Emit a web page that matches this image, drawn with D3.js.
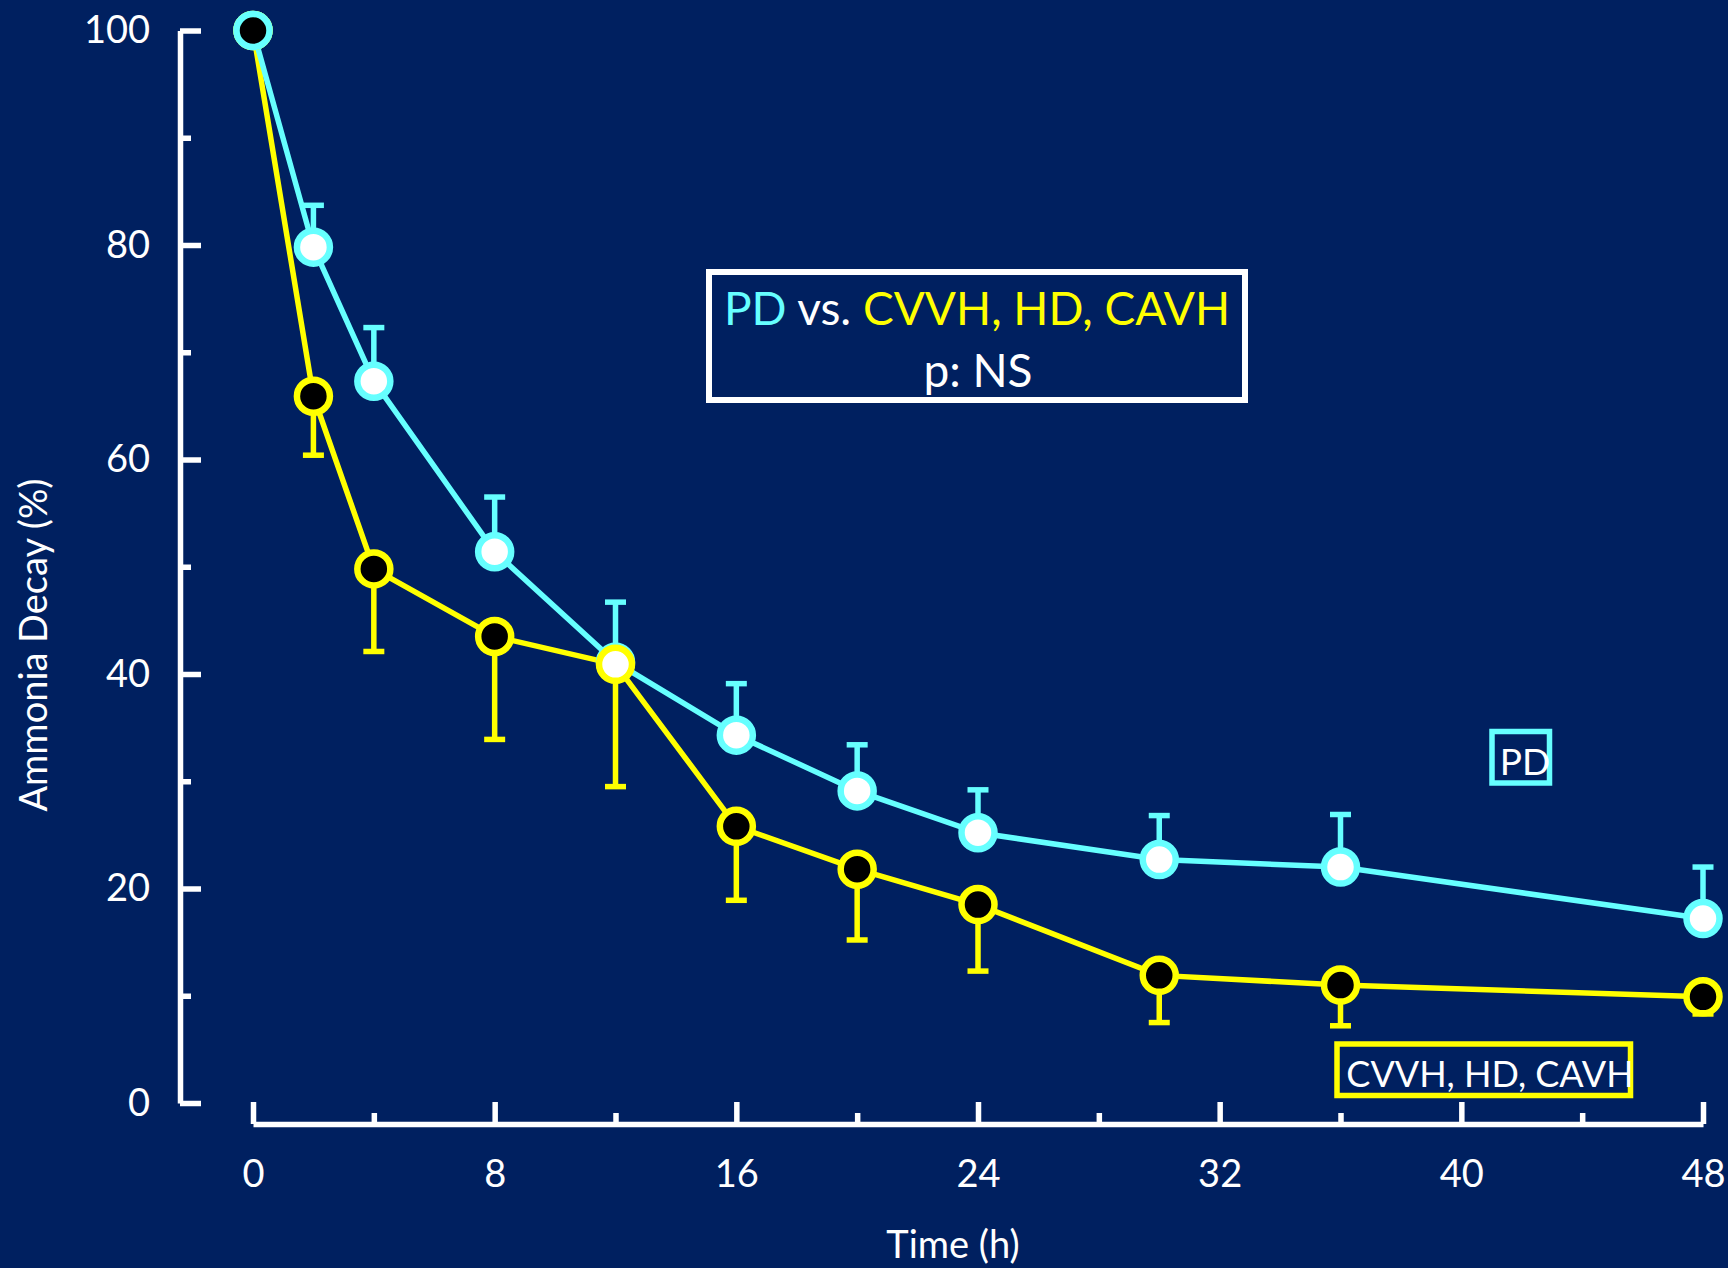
<!DOCTYPE html>
<html>
<head>
<meta charset="utf-8">
<script src="https://cdn.jsdelivr.net/npm/d3@7"></script>
<style>
  body { margin: 0; background: #002060; }
  svg { display: block; }
  text { font-family: Lato, "Open Sans", sans-serif; fill: #fff; }
</style>
</head>
<body>
<svg width="1728" height="1268"></svg>
<script>
// Values
const times = [0, 2, 4, 8, 12, 16, 20, 24, 30, 36, 48];
const pdMean = [100, 79.8, 67.3, 51.4, 41.1, 34.3, 29.1, 25.2, 22.7, 22.0, 17.2];
const pdSD = [0, 3.9, 5.0, 5.1, 5.6, 4.8, 4.3, 4.0, 4.1, 4.9, 4.8];
const rrtMean = [100, 65.9, 49.8, 43.5, 40.9, 25.8, 21.8, 18.5, 11.9, 11.0, 9.9];
const rrtSD = [0, 5.5, 7.7, 9.6, 11.4, 6.9, 6.6, 6.2, 4.4, 3.8, 1.6];

const yMajor = [0, 20, 40, 60, 80, 100];
const yMinor = [10, 30, 50, 70, 90];
const xMajor = [0, 8, 16, 24, 32, 40, 48];
const xMinor = [4, 12, 20, 28, 36, 44];

// Colours
const BG = "#002060";
const CYAN = "#66FFFF";
const YELLOW = "#FFFF00";

const svg = d3.select("svg");
svg.append("rect").attr("width", 1728).attr("height", 1268).attr("fill", BG);

// Scales
const x = d3.scaleLinear().domain([0, 48]).range([253, 1703]);
const y = d3.scaleLinear().domain([0, 100]).range([1103, 30.5]);

const pd = times.map((t, i) => ({ t: t, v: pdMean[i], e: pdSD[i] }));
const rrt = times.map((t, i) => ({ t: t, v: rrtMean[i], e: rrtSD[i] }));

// Y axis (ticks point inward)
const yAxis = svg.append("g").attr("transform", "translate(180,0)");
yAxis.call(d3.axisLeft(y).tickValues(yMajor).tickSize(-21).tickSizeOuter(0).tickPadding(30));
svg.append("g").attr("transform", "translate(180,0)")
    .call(d3.axisLeft(y).tickValues(yMinor).tickSize(-11).tickFormat(""))
    .select(".domain").remove();

// X axis (offset below the plot)
const xAxis = svg.append("g").attr("transform", "translate(0,1124)");
xAxis.call(d3.axisBottom(x).tickValues(xMajor).tickSize(-22).tickSizeOuter(0).tickPadding(36));
svg.append("g").attr("transform", "translate(0,1124)")
    .call(d3.axisBottom(x).tickValues(xMinor).tickSize(-11).tickFormat(""))
    .select(".domain").remove();

svg.selectAll(".domain, .tick line")
    .attr("stroke", "#fff")
    .attr("stroke-width", 5.5);
svg.selectAll(".tick text")
    .style("font-family", "Lato, 'Open Sans', sans-serif")
    .style("font-size", "38px")
    .attr("fill", "#fff");

// Axis titles
svg.append("text")
    .attr("x", 953).attr("y", 1258)
    .attr("text-anchor", "middle")
    .style("font-size", "38px")
    .text("Time (h)");

svg.append("text")
    .attr("transform", "translate(47,645) rotate(-90)")
    .attr("text-anchor", "middle")
    .style("font-size", "38px")
    .text("Ammonia Decay (%)");

// Lines
const line = d3.line().x(d => x(d.t)).y(d => y(d.v));

svg.append("path").datum(rrt)
    .attr("d", line).attr("fill", "none")
    .attr("stroke", YELLOW).attr("stroke-width", 5.5);
svg.append("path").datum(pd)
    .attr("d", line).attr("fill", "none")
    .attr("stroke", CYAN).attr("stroke-width", 5.5);

// Error bars: PD up, RRT down
function errorBars(data, colour, dir) {
    const g = svg.append("g");
    const bars = data.filter(d => d.e > 0);
    g.selectAll("line.stem").data(bars).enter().append("line")
        .attr("x1", d => x(d.t)).attr("x2", d => x(d.t))
        .attr("y1", d => y(d.v))
        .attr("y2", d => y(d.v + dir * d.e))
        .attr("stroke", colour).attr("stroke-width", 5.5);
    g.selectAll("line.cap").data(bars).enter().append("line")
        .attr("x1", d => x(d.t) - 10.5).attr("x2", d => x(d.t) + 10.5)
        .attr("y1", d => y(d.v + dir * d.e))
        .attr("y2", d => y(d.v + dir * d.e))
        .attr("stroke", colour).attr("stroke-width", 5.5);
}
errorBars(pd, CYAN, 1);
errorBars(rrt, YELLOW, -1);

// Markers
svg.append("g").selectAll("circle").data(pd).enter().append("circle")
    .attr("cx", d => x(d.t)).attr("cy", d => y(d.v)).attr("r", 16.5)
    .attr("fill", "#fff").attr("stroke", CYAN).attr("stroke-width", 6.5);

// at 12 h the RRT marker sits over the PD one, the slide shows it white
svg.append("g").selectAll("circle").data(rrt).enter().append("circle")
    .attr("cx", d => x(d.t)).attr("cy", d => y(d.v)).attr("r", 16.5)
    .attr("fill", d => d.t === 12 ? "#fff" : "#000")
    .attr("stroke", YELLOW).attr("stroke-width", 6.5);

// at 0 h the PD ring shows on top with a black centre
svg.append("circle")
    .attr("cx", x(pd[0].t)).attr("cy", y(pd[0].v)).attr("r", 16.5)
    .attr("fill", "#000").attr("stroke", CYAN).attr("stroke-width", 6.5);

// Comparison box
svg.append("rect")
    .attr("x", 709).attr("y", 272).attr("width", 536).attr("height", 128)
    .attr("fill", "none").attr("stroke", "#fff").attr("stroke-width", 6);
const t1 = svg.append("text")
    .attr("x", 977).attr("y", 325)
    .attr("text-anchor", "middle")
    .style("font-size", "46px");
t1.append("tspan").attr("fill", CYAN).text("PD");
t1.append("tspan").attr("fill", "#fff").text(" vs. ");
t1.append("tspan").attr("fill", YELLOW).text("CVVH, HD, CAVH");
svg.append("text")
    .attr("x", 978).attr("y", 387)
    .attr("text-anchor", "middle")
    .style("font-size", "46px")
    .text("p: NS");

// Series labels
svg.append("rect")
    .attr("x", 1492).attr("y", 731.5).attr("width", 57.5).attr("height", 51.5)
    .attr("fill", "none").attr("stroke", CYAN).attr("stroke-width", 5.5);
svg.append("text")
    .attr("x", 1525).attr("y", 775)
    .attr("text-anchor", "middle")
    .attr("fill", CYAN)
    .style("font-size", "37px")
    .text("PD");

svg.append("rect")
    .attr("x", 1337).attr("y", 1044).attr("width", 293.5).attr("height", 51.5)
    .attr("fill", "none").attr("stroke", YELLOW).attr("stroke-width", 5.5);
svg.append("text")
    .attr("x", 1490).attr("y", 1086.5)
    .attr("text-anchor", "middle")
    .attr("fill", YELLOW)
    .style("font-size", "36px")
    .text("CVVH, HD, CAVH");
</script>
</body>
</html>
